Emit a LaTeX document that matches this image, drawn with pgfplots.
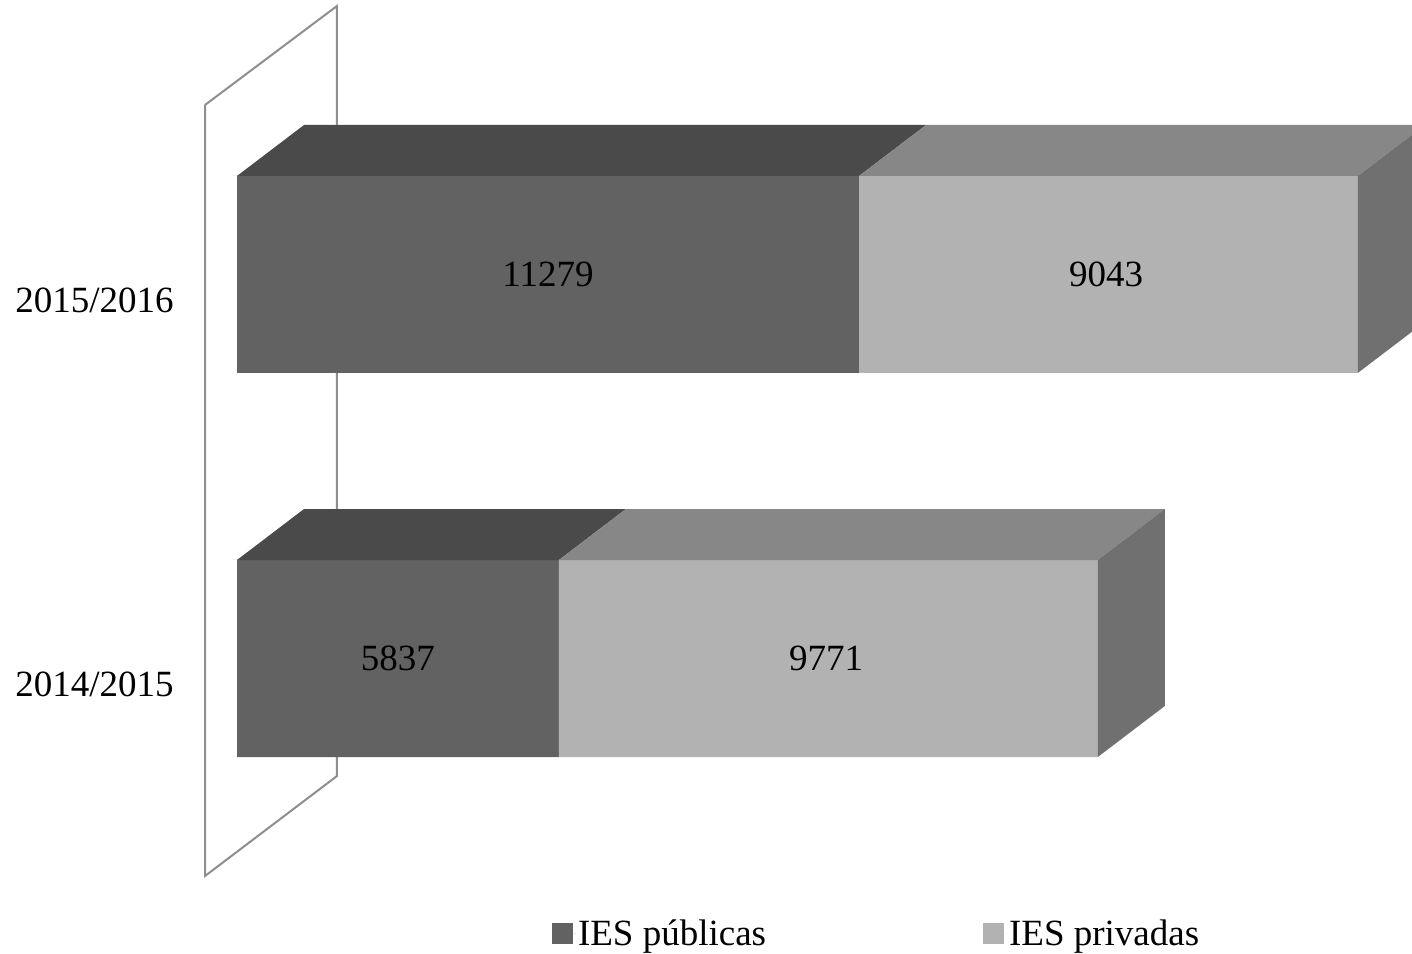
\documentclass[border=0pt]{standalone}
\usepackage{pgfplots}
\pgfplotsset{compat=1.18}
\usepackage{fontspec}
\setmainfont{Liberation Serif}
\definecolor{pubfront}{HTML}{626262}
\definecolor{pubtop}{HTML}{4A4A4A}
\definecolor{prifront}{HTML}{B2B2B2}
\definecolor{pritop}{HTML}{878787}
\definecolor{side}{HTML}{707070}
\definecolor{wall}{HTML}{8E8E8E}
\begin{document}
\begin{tikzpicture}
\begin{axis}[
  scale only axis,
  width=1412pt, height=953pt,
  xmin=-4297.4, xmax=21305.5,
  ymin=-0.7669, ymax=1.7148,
  axis line style={draw=none},
  tick style={draw=none},
  xtick=\empty,
  ytick={0,1},
  yticklabels={2014/2015,2015/2016},
  yticklabel style={anchor=center, xshift=94.5pt, yshift=-26pt},
  tick label style={font=\fontsize{37}{40}\selectfont},
  legend columns=2,
  legend style={draw=none, fill=none, at={(axis cs:5712,-0.6745)}, anchor=north west,
    inner sep=0pt, outer sep=0pt, font=\fontsize{37}{40}\selectfont,
    /tikz/every even column/.append style={column sep=215pt}},
  legend cell align=left,
]
% wall
\addplot[forget plot, stack plots=false, sharp plot, wall, line width=2pt]
  coordinates {(-580,1.4414) (1813,1.6992) (1813,-0.3060) (-580,-0.5664) (-580,1.4414)};
% front faces
\addplot[xbar stacked, bar width=197pt, fill=pubfront, draw=none, bar shift=0pt,
  legend image code/.code={\fill[pubfront] (0pt,-10.5pt) rectangle (21pt,10.5pt);\path (0pt,0pt) -- (24pt,0pt);}]
  coordinates {(5837,0) (11279,1)};
\addlegendentry{IES públicas}
\addplot[xbar stacked, bar width=197pt, fill=prifront, draw=none, bar shift=0pt,
  legend image code/.code={\fill[prifront] (0pt,-10.5pt) rectangle (21pt,10.5pt);\path (0pt,0pt) -- (24pt,0pt);}]
  coordinates {(9771,0) (9043,1)};
\addlegendentry{IES privadas}
% top faces
\addplot[forget plot, stack plots=false, sharp plot, draw=none, fill=pubtop]
  coordinates {(0,1.2565) (1215,1.3893) (12494,1.3893) (11279,1.2565) (0,1.2565)};
\addplot[forget plot, stack plots=false, sharp plot, draw=none, fill=pritop]
  coordinates {(11279,1.2565) (12494,1.3893) (21537,1.3893) (20322,1.2565) (11279,1.2565)};
\addplot[forget plot, stack plots=false, sharp plot, draw=none, fill=pubtop]
  coordinates {(0,0.2565) (1215,0.3893) (7052,0.3893) (5837,0.2565) (0,0.2565)};
\addplot[forget plot, stack plots=false, sharp plot, draw=none, fill=pritop]
  coordinates {(5837,0.2565) (7052,0.3893) (16823,0.3893) (15608,0.2565) (5837,0.2565)};
% side faces
\addplot[forget plot, stack plots=false, sharp plot, draw=none, fill=side]
  coordinates {(20322,1.2565) (21537,1.3893) (21537,0.8763) (20322,0.7435) (20322,1.2565)};
\addplot[forget plot, stack plots=false, sharp plot, draw=none, fill=side]
  coordinates {(15608,0.2565) (16823,0.3893) (16823,-0.1237) (15608,-0.2565) (15608,0.2565)};
% value labels
\addplot[forget plot, stack plots=false, only marks, mark=none,
  point meta=explicit symbolic,
  nodes near coords,
  nodes near coords style={anchor=center, font=\fontsize{37}{40}\selectfont, black}]
  coordinates {(5640,1)[11279] (15757,1)[9043] (2919,0)[5837] (10680,0)[9771]};
\end{axis}
\end{tikzpicture}
\end{document}
